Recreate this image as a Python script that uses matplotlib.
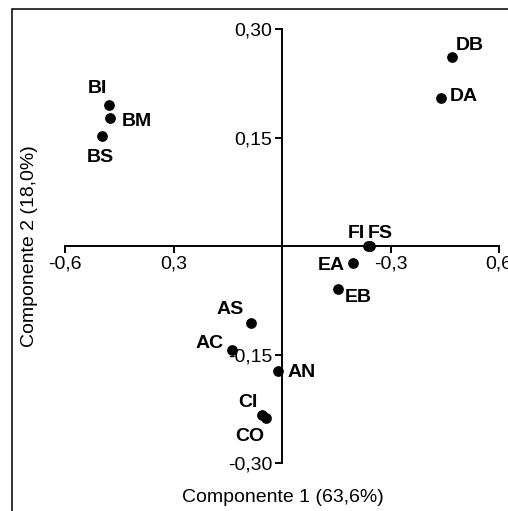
import matplotlib
matplotlib.use("Agg")
import matplotlib.pyplot as plt
from matplotlib.patches import Rectangle

plt.rcParams['font.family'] = ['Liberation Sans', 'DejaVu Sans']

# PCA scores
names = ["DB", "DA", "BI", "BM", "BS", "FI", "FS", "EA", "EB", "AS", "AC", "AN", "CI", "CO"]
pc1 = [0.470, 0.440, -0.478, -0.476, -0.498, 0.239, 0.243, 0.196, 0.155, -0.086, -0.138, -0.011, -0.055, -0.044]
pc2 = [0.261, 0.205, 0.195, 0.177, 0.152, 0.000, 0.000, -0.024, -0.059, -0.107, -0.144, -0.173, -0.234, -0.238]

x_ticks = [-0.6, -0.3, 0.3, 0.6]
x_tick_labels = ["-0,6", "0,3", "-0,3", "0,6"]
y_ticks = [-0.30, -0.15, 0.15, 0.30]
y_tick_labels = ["-0,30", "-0,15", "0,15", "0,30"]

# label placement (pixel offsets, alignment)
label_pos = {
    "DB": (4, 12, "left"),
    "DA": (9, 1, "left"),
    "BI": (-12, 16, "center"),
    "BM": (12, -4, "left"),
    "BS": (-2, -21, "center"),
    "FI": (-3, 13, "right"),
    "FS": (-2, 13, "left"),
    "EA": (-8, -2, "right"),
    "EB": (7, -9, "left"),
    "AS": (-21, 14, "center"),
    "AC": (-8, 7, "right"),
    "AN": (9, -1, "left"),
    "CI": (-4, 13, "right"),
    "CO": (-16, -18, "center"),
}

fig = plt.figure(figsize=(5.08, 5.11), dpi=100)
ax = fig.add_axes([65 / 508, 48 / 511, 434 / 508, 434 / 511])

ax.scatter(pc1, pc2, s=45, color="black", zorder=3, clip_on=False)
for n, x, y in zip(names, pc1, pc2):
    dx, dy, ha = label_pos[n]
    ax.annotate(n, (x, y), xytext=(dx * 0.72, dy * 0.72), textcoords="offset points",
                ha=ha, va="center", fontsize=14, fontweight="bold", annotation_clip=False)

ax.set_xlim(-0.6, 0.6)
ax.set_ylim(-0.3, 0.3)
ax.spines["left"].set_position(("data", 0))
ax.spines["bottom"].set_position(("data", 0))
ax.spines["top"].set_visible(False)
ax.spines["right"].set_visible(False)
for s in ["left", "bottom"]:
    ax.spines[s].set_linewidth(1.4)

ax.set_xticks(x_ticks)
ax.set_xticklabels(x_tick_labels)
ax.set_yticks(y_ticks)
ax.set_yticklabels(y_tick_labels)
ax.tick_params(direction="out", length=5, width=1.4, labelsize=14, pad=2)

fig.text(283 / 508, 1 - 497 / 511, "Componente 1 (63,6%)", ha="center", va="center", fontsize=14)
fig.text(30 / 508, 1 - 246 / 511, "Componente 2 (18,0%)", ha="center", va="center",
         rotation=90, fontsize=14)

# outer frame (only top and left edges visible)
fig.patches.append(Rectangle((11.5 / 508, -0.1), 1.2, 1.1 - 9.5 / 511,
                             transform=fig.transFigure, fill=False, lw=1.1, ec="black"))

fig.savefig("out.png", dpi=100)
